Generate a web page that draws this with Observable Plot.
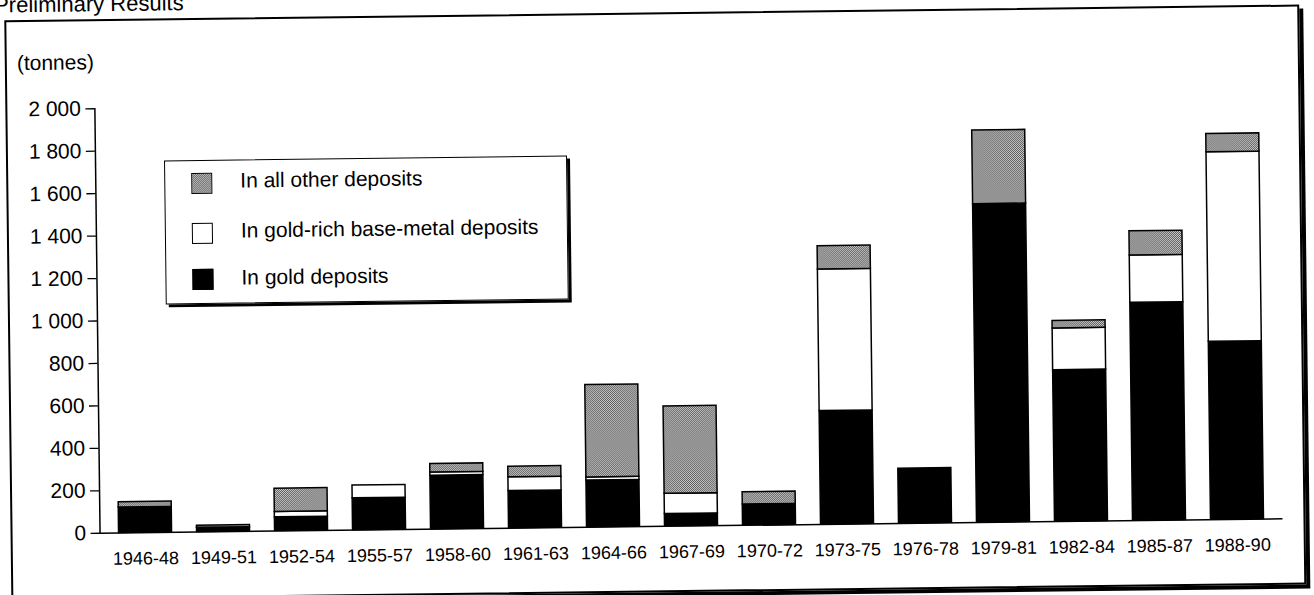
<!DOCTYPE html>
<html>
<head>
<meta charset="utf-8">
<script src="https://cdn.jsdelivr.net/npm/d3@7"></script>
<script src="https://cdn.jsdelivr.net/npm/@observablehq/plot@0.6"></script>
<style>
  html, body { margin: 0; padding: 0; background: #fff; overflow: hidden; }
  body { width: 1314px; height: 595px; font-family: "Liberation Sans", Arial, Helvetica, sans-serif; color: #000; }
  #page { position: relative; width: 1314px; height: 595px; transform: rotate(-0.7deg); transform-origin: 690px 320px; }
  #title { position: absolute; left: -2px; top: -14px; font-size: 22px; line-height: 22px; white-space: nowrap; }
  #frame { position: absolute; left: 8px; top: 12px; width: 1295px; height: 580px; box-sizing: border-box;
           border: 2px solid #000; box-shadow: 4px 4px 0 #000; background: #fff; }
  #chart { position: absolute; left: 0; top: 0; }
  #tonnes { position: absolute; left: 20px; top: 43px; font-size: 21px; line-height: 24px; white-space: nowrap; }
  #legend { position: absolute; left: 166px; top: 154px; width: 403px; height: 144px; box-sizing: border-box;
            border: 1.5px solid #000; box-shadow: 3px 3px 0 #000; background: #fff; }
  .sw { position: absolute; left: 26px; width: 21px; height: 21px; box-sizing: border-box; border: 1px solid #000; }
  .lt { position: absolute; left: 75px; font-size: 21px; line-height: 24px; white-space: nowrap; }
</style>
</head>
<body>
<svg width="0" height="0" style="position:absolute">
  <defs>
    <pattern id="halftone" patternUnits="userSpaceOnUse" width="2" height="2">
      <rect width="2" height="2" fill="#d2d2d2"/>
      <rect x="0" y="0" width="1" height="1" fill="#555"/>
      <rect x="1" y="1" width="1" height="1" fill="#555"/>
    </pattern>
  </defs>
</svg>
<div id="page">
  <div id="title">Preliminary Results</div>
  <div id="frame"></div>
  <div id="chart"></div>
  <div id="tonnes">(tonnes)</div>
  <div id="legend"></div>
</div>
<script>
// ---- data (tonnes) ----
const periods = ["1946-48", "1949-51", "1952-54", "1955-57", "1958-60", "1961-63", "1964-66", "1967-69",
                 "1970-72", "1973-75", "1976-78", "1979-81", "1982-84", "1985-87", "1988-90"];
const goldDeposits      = [120, 20, 65, 150, 252, 175, 220, 58, 98, 534, 258, 1500, 713, 1026, 838];
const baseMetalDeposits = [0, 0, 25, 60, 15, 65, 15, 95, 0, 667, 0, 0, 197, 223, 893];
const otherDeposits     = [25, 10, 110, 0, 40, 50, 435, 412, 58, 110, 0, 347, 35, 114, 86];
const seriesNames = ["In gold deposits", "In gold-rich base-metal deposits", "In all other deposits"];
const seriesFills = ["#000", "#fff", "url(#halftone)"];
const yTicks = [0, 200, 400, 600, 800, 1000, 1200, 1400, 1600, 1800, 2000];

const seriesValues = [goldDeposits, baseMetalDeposits, otherDeposits];
const rows = [];
periods.forEach((p, i) => {
  seriesNames.forEach((s, j) => {
    const v = seriesValues[j][i];
    if (v > 0) rows.push({period: p, series: s, value: v});
  });
});

const fmt = d => d3.format(",")(d).replace(/,/g, " ");

const chart = Plot.plot({
  width: 1314,
  height: 595,
  marginLeft: 97,
  marginRight: 34,
  marginTop: 101,
  marginBottom: 69.5,
  style: {background: "transparent", fontFamily: "'Liberation Sans', Arial, sans-serif", color: "#000", overflow: "visible"},
  x: {domain: periods, paddingInner: 0.326, paddingOuter: 0.188},
  y: {domain: [0, 2000]},
  color: {domain: seriesNames, range: seriesFills},
  marks: [
    Plot.barY(rows, {x: "period", y: "value", fill: "series", stroke: "#000", strokeWidth: 1.5}),
    Plot.ruleY([0], {stroke: "#000", strokeWidth: 1.5}),
    Plot.frame({anchor: "left", stroke: "#000", strokeWidth: 1.5}),
    Plot.axisY({ticks: yTicks, tickFormat: fmt, tickSize: 9, tickPadding: 5, fontSize: 21, label: null, stroke: "#000", strokeWidth: 1.3}),
    Plot.axisX({tickSize: 0, tickPadding: 19, fontSize: 18, label: null})
  ]
});
document.getElementById("chart").appendChild(chart);

// ---- legend ----
const legend = document.getElementById("legend");
const order = [2, 1, 0];
const swTop = [12, 62, 108];
const txtTop = [8, 58, 105];
const swBg = ["#000", "#fff", "repeating-conic-gradient(#555 0 25%, #d2d2d2 0 50%) 0 0/2px 2px"];
order.forEach((j, k) => {
  const sw = document.createElement("div");
  sw.className = "sw";
  sw.style.top = swTop[k] + "px";
  sw.style.background = swBg[j];
  legend.appendChild(sw);
  const t = document.createElement("div");
  t.className = "lt";
  t.style.top = txtTop[k] + "px";
  t.textContent = seriesNames[j];
  legend.appendChild(t);
});
</script>
</body>
</html>
